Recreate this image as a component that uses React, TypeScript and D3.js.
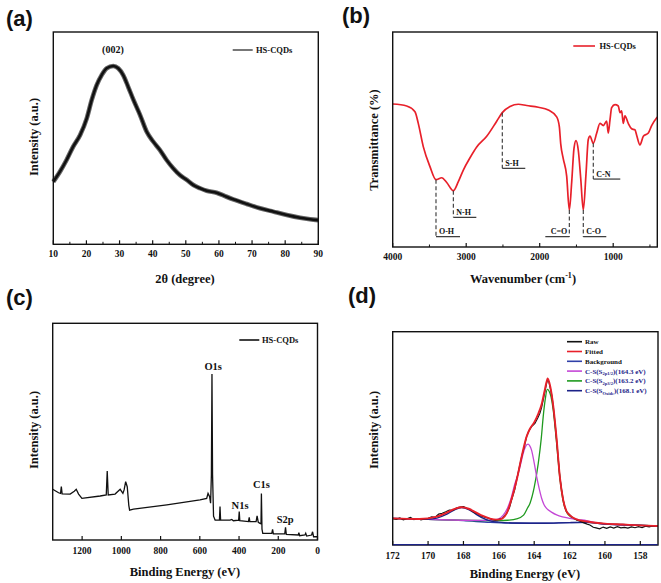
import React from "react";
import * as d3 from "d3";

// ---------- (a) XRD ----------
const xrdAngle = [10, 12, 14, 16, 18.1, 20.1, 21.6, 23.1, 24.6, 26.1, 28.1, 29.6, 31.1, 32.6, 34.2, 36.2, 38.2, 40.2, 42.2, 44.2, 46.2, 48.2, 50.3, 52.3, 54.3, 56.3, 59.3, 62.3, 64.3, 68.4, 72.4, 76.4, 80.5, 84.5, 87.5, 90];
const xrdIntensity = [29.5, 34.2, 39.7, 46, 51.5, 59.3, 68, 75, 79.7, 82.9, 84, 82.9, 79.7, 74.2, 68, 60.9, 53, 48.3, 44.4, 39.7, 35.8, 32.6, 30.3, 27.9, 26.4, 25.2, 24.3, 22.4, 21.2, 19, 17, 15.4, 13.8, 12.5, 11.8, 11.4];
const xrdTicks = [10, 20, 30, 40, 50, 60, 70, 80, 90];
const xrdMinor = [15, 25, 35, 45, 55, 65, 75, 85];

// ---------- (b) FTIR ----------
const ftirWavenumber = [4000, 3810, 3697, 3652, 3584, 3493, 3411, 3333, 3265, 3175, 3107, 3039, 2948, 2857, 2721, 2585, 2509, 2404, 2291, 2177, 2019, 1883, 1769, 1733, 1714, 1679, 1633, 1597, 1565, 1533, 1506, 1475, 1442, 1407, 1370, 1339, 1316, 1271, 1225, 1180, 1135, 1089, 1067, 1044, 1021, 976, 931, 907, 885, 863, 840, 795, 749, 704, 681, 636, 590, 522, 477, 400];
const ftirTransmittance = [66.5, 65.6, 62.9, 57.5, 46.7, 37.4, 31.3, 32.2, 30.0, 26.2, 30.4, 35.8, 41.5, 46.5, 51.5, 58.5, 62.5, 65.3, 66.4, 65.8, 65.0, 63.7, 60.5, 56, 48, 41, 33, 17.2, 30, 46, 49.5, 45, 32, 17.2, 34, 50, 51.6, 48.2, 52.9, 57.5, 56.5, 58.5, 53, 59, 64.8, 66.2, 65.6, 62.5, 63.3, 57.5, 61, 57.5, 55, 54.5, 52, 47.5, 51.5, 53, 56.5, 60.5];
const ftirBands = ["O-H", "N-H", "S-H", "C=O", "C-O", "C-N"];
const ftirBandWavenumber = [3411, 3175, 2509, 1597, 1407, 1271];
const ftirBandTransmittance = [31.3, 26.2, 62.5, 17.2, 17.2, 48.2];
const ftirBandLabelLevel = [4.8, 13.8, 36.6, 4.8, 4.8, 31.6];
const ftirTicks = [4000, 3000, 2000, 1000];
const ftirMinor = [3500, 2500, 1500, 500];

// ---------- (c) XPS survey ----------
const surveyEnergy = [1350, 1335, 1320, 1310, 1306, 1302, 1261, 1240, 1230, 1218, 1201, 1108, 1077, 1072, 1067, 1032, 1006, 992, 986, 978, 970, 962, 958, 938, 768, 599, 565, 558, 550, 545, 541, 538, 535, 530, 522, 500, 497, 494, 446, 437, 429, 402, 399, 396, 352, 348, 345, 313, 308, 302, 293, 288, 286, 283, 279, 233, 229, 225, 167, 163, 159, 98, 95, 91, 64, 60, 55, 30, 25, 20, 0];
const surveyIntensity = [23.4, 22.6, 21.8, 21.5, 24.6, 21.3, 21.2, 22.5, 23.4, 21.2, 19.2, 20.3, 20.8, 31.8, 20.8, 21.2, 23.4, 21.5, 23.1, 26.9, 24.6, 16, 13.8, 14.2, 16.2, 18.5, 19.2, 21.5, 20, 17, 30, 76.6, 30, 11, 9.2, 9.2, 15.4, 9.2, 9.2, 9.5, 8.9, 9.2, 13.1, 8.9, 8.5, 10.5, 8.5, 8.5, 11.1, 8.2, 7.7, 7.5, 21.5, 5, 3.1, 3.1, 4.9, 2.8, 2.8, 5.8, 2.6, 2.3, 3.4, 2.0, 2.3, 3.1, 1.8, 2.3, 3.8, 1.5, 1.5];
const surveyPeaks = ["O1s", "N1s", "C1s", "S2p"];
const surveyTicks = [1200, 1000, 800, 600, 400, 200, 0];

// ---------- (d) S2p high resolution ----------
const rawEnergy = [172.0, 171.8, 171.6, 171.4, 171.2, 171.0, 170.8, 170.6, 170.4, 170.2, 170.0, 169.8, 169.6, 169.4, 169.2, 169.0, 168.8, 168.6, 168.4, 168.2, 168.0, 167.8, 167.6, 167.4, 167.2, 167.0, 166.8, 166.6, 166.4, 166.2, 166.0, 165.8, 165.56, 165.4, 165.28, 165.1, 164.99, 164.85, 164.71, 164.55, 164.43, 164.3, 164.15, 163.96, 163.8, 163.68, 163.58, 163.49, 163.38, 163.3, 163.24, 163.17, 163.11, 163.0, 162.92, 162.82, 162.73, 162.64, 162.55, 162.45, 162.36, 162.27, 162.17, 162.0, 161.89, 161.6, 161.4, 161.23, 161.0, 160.85, 160.66, 160.5, 160.3, 160.1, 159.9, 159.7, 159.5, 159.3, 159.1, 158.9, 158.7, 158.5, 158.3, 158.1, 157.9, 157.7, 157.5, 157.3, 157.0];
const rawIntensity = [12.5, 12.0, 12.7, 11.8, 12.3, 12.9, 11.9, 12.4, 11.8, 12.2, 12.5, 13.2, 13.0, 14.5, 14.9, 15.6, 16.4, 16.2, 17.3, 17.8, 18.0, 17.2, 16.5, 15.3, 14.6, 13.6, 13.0, 12.6, 12.0, 11.6, 12.0, 12.5, 14.8, 17.5, 21.1, 26, 30.5, 36, 41.4, 46.5, 50.8, 53.5, 55.5, 57, 59.5, 61.7, 64.5, 68, 72.5, 75.8, 77.7, 76.5, 74.2, 70, 64.8, 57, 49.2, 40.5, 32, 26, 21.1, 18, 15.6, 14.2, 13.3, 11.7, 11.2, 10.5, 9.8, 9.4, 8.3, 8.0, 7.6, 8.4, 7.8, 8.5, 7.9, 8.6, 8.0, 8.3, 7.9, 8.5, 8.1, 8.6, 8.2, 8.8, 8.5, 8.9, 8.7];
const fitEnergy = [172, 170.5, 169.5, 169.0, 168.5, 168.1, 167.7, 167.3, 166.9, 166.5, 166.1, 165.8, 165.56, 165.28, 164.99, 164.71, 164.43, 164.24, 164.0, 163.77, 163.58, 163.42, 163.3, 163.24, 163.11, 162.92, 162.73, 162.55, 162.36, 162.17, 161.89, 161.6, 161.0, 160.5, 160, 159, 158, 157];
const fitIntensity = [12.5, 12.2, 13.3, 15.0, 16.9, 17.7, 17.0, 15.3, 13.6, 12.4, 11.9, 12.4, 14.8, 21.5, 30.5, 41.4, 50.8, 54.5, 57.5, 61.5, 66, 72, 76.5, 78.1, 75, 65, 49.5, 32, 21.1, 15.8, 13.3, 12.0, 11.0, 10.4, 10.0, 9.6, 9.2, 8.9];
const bgEnergy = [172, 170, 168, 166.5, 165, 163.5, 162, 161, 160, 158, 157];
const bgIntensity = [12.5, 12.0, 11.4, 10.6, 10.2, 10.2, 10.5, 10.6, 9.8, 9.2, 8.9];
const s2p32Energy = [172, 170, 168, 166, 165.5, 165, 164.6, 164.4, 164.24, 164.0, 163.77, 163.6, 163.49, 163.38, 163.26, 163.1, 162.92, 162.73, 162.55, 162.36, 162.17, 161.9, 161.6, 161, 160, 158, 157];
const s2p32Intensity = [12.3, 12.0, 11.6, 11.4, 11.6, 12.2, 14, 17, 19.5, 27, 38.3, 50, 60.2, 68, 73, 71, 63, 47.5, 31.5, 20.5, 15.5, 13, 11.8, 10.8, 10.0, 9.3, 8.9];
const s2p12Energy = [172, 170, 168, 166.5, 166, 165.75, 165.5, 165.28, 165.1, 164.9, 164.75, 164.62, 164.5, 164.35, 164.25, 164.15, 164.0, 163.86, 163.72, 163.58, 163.45, 163.3, 163.0, 162.73, 162.4, 161.98, 161.5, 161.04, 160.5, 160, 159, 158, 157];
const s2p12Intensity = [12.4, 12.0, 11.6, 11.5, 12.3, 14, 17.5, 22.7, 28.5, 33.6, 38.5, 43, 46, 47.3, 46.5, 44.5, 38.5, 32, 26.5, 21.9, 19, 17.2, 15.3, 14.1, 13.2, 12.5, 11.9, 11.4, 10.4, 10.0, 9.6, 9.2, 8.9];
const oxideEnergy = [172, 170, 169.5, 169, 168.5, 168.1, 167.7, 167.3, 166.9, 166.5, 166, 165, 163.5, 162, 161, 160, 158, 157];
const oxideIntensity = [12.5, 12.1, 12.6, 14.2, 16.5, 17.5, 16.6, 14.5, 12.6, 11.3, 10.7, 10.3, 10.2, 10.5, 10.6, 9.8, 9.2, 8.9];
const s2pTicks = [172, 170, 168, 166, 164, 162, 160, 158];

const SERIF = "'Liberation Serif','Times New Roman',serif";
const SANS = "'Liberation Sans',Arial,sans-serif";

type Sc = d3.ScaleLinear<number, number>;

function path(xs: number[], ys: number[], sx: Sc, sy: Sc, curve: d3.CurveFactory = d3.curveLinear) {
  return (
    d3
      .line<number>()
      .x((d) => sx(d))
      .y((_, i) => sy(ys[i]))
      .curve(curve)(xs) || ""
  );
}

function Frame({ sx, sy }: { sx: Sc; sy: Sc }) {
  const [x0, x1] = sx.range();
  const [y1, y0] = sy.range();
  return <rect x={Math.min(x0, x1)} y={y0} width={Math.abs(x1 - x0)} height={y1 - y0} fill="none" stroke="#111" strokeWidth={1.4} />;
}

function XAxis({ sx, sy, ticks, minor = [], labelY, fmt = (d: number) => String(d) }: { sx: Sc; sy: Sc; ticks: number[]; minor?: number[]; labelY: number; fmt?: (d: number) => string }) {
  const yb = sy.range()[0];
  return (
    <g>
      {ticks.map((t) => (
        <line key={"M" + t} x1={sx(t)} x2={sx(t)} y1={yb} y2={yb - 4} stroke="#111" strokeWidth={1.2} />
      ))}
      {minor.map((t) => (
        <line key={"m" + t} x1={sx(t)} x2={sx(t)} y1={yb} y2={yb - 2.5} stroke="#111" strokeWidth={1} />
      ))}
      {ticks.map((t) => (
        <text key={"t" + t} x={sx(t)} y={labelY} textAnchor="middle" fontFamily={SERIF} fontWeight="bold" fontSize={9.5} fill="#111">
          {fmt(t)}
        </text>
      ))}
    </g>
  );
}

function YTitle({ x, y, text }: { x: number; y: number; text: string }) {
  return (
    <text transform={`translate(${x},${y}) rotate(-90)`} textAnchor="middle" fontFamily={SERIF} fontWeight="bold" fontSize={12.5} fill="#111">
      {text}
    </text>
  );
}

function XTitle({ x, y, children }: { x: number; y: number; children: React.ReactNode }) {
  return (
    <text x={x} y={y} textAnchor="middle" fontFamily={SERIF} fontWeight="bold" fontSize={12.5} fill="#111">
      {children}
    </text>
  );
}

function PanelLabel({ x, y, text }: { x: number; y: number; text: string }) {
  return (
    <text x={x} y={y} fontFamily={SANS} fontWeight="bold" fontSize={22} fill="#111">
      {text}
    </text>
  );
}

export default function App() {
  const xA = d3.scaleLinear().domain([10, 90]).range([53.3, 318.3]);
  const yA = d3.scaleLinear().domain([0, 100]).range([244.3, 32]);
  const xB = d3.scaleLinear().domain([4000, 400]).range([392.7, 657.3]);
  const yB = d3.scaleLinear().domain([0, 100]).range([247, 32]);
  const xC = d3.scaleLinear().domain([1350, 0]).range([52.7, 317.5]);
  const yC = d3.scaleLinear().domain([0, 100]).range([540, 323.3]);
  const xD = d3.scaleLinear().domain([172, 157]).range([392.7, 658]);
  const yD = d3.scaleLinear().domain([0, 100]).range([545, 331.7]);

  const red = "#e8202a";
  const navy = "#1c2388";
  const bgBlue = "#3040a8";
  const green = "#1f9a1f";
  const violet = "#c447d6";

  const xrdPath = path(xrdAngle, xrdIntensity, xA, yA, d3.curveMonotoneX);
  const ftirPath = path(ftirWavenumber, ftirTransmittance, xB, yB, d3.curveMonotoneX);
  const surveyPath = path(surveyEnergy, surveyIntensity, xC, yC);

  // band annotation layout (direction of bracket; +1 right, -1 left)
  const bandDir = [1, 1, 1, -1, 1, 1];
  const bandLen = [24, 23, 23, 24, 23, 27];

  // survey peak label positions (energy, intensity)
  const surveyLabelE = [532, 395, 286, 165];
  const surveyLabelI = [78.5, 14.5, 24, 7.8];

  const legendD = [
    { name: "Raw", color: "#111", sub: "" },
    { name: "Fitted", color: red, sub: "" },
    { name: "Background", color: bgBlue, sub: "" },
    { name: "C-S(S", color: violet, sub: "2p1/2", tail: ")(164.3 eV)" },
    { name: "C-S(S", color: green, sub: "2p3/2", tail: ")(163.2 eV)" },
    { name: "C-S(S", color: navy, sub: "Oxide", tail: ")(168.1 eV)" },
  ];

  return (
    <svg width={661} height={583} viewBox="0 0 661 583" style={{ position: "absolute", left: 0, top: 0, background: "#fff" }}>
      <rect x={0} y={0} width={661} height={583} fill="#fff" />

      {/* ---------------- (a) ---------------- */}
      <PanelLabel x={6} y={26} text="(a)" />
      <path d={xrdPath} fill="none" stroke="#666" strokeWidth={4.6} strokeLinejoin="round" />
      <path d={xrdPath} fill="none" stroke="#111" strokeWidth={2.6} strokeLinejoin="round" />
      <Frame sx={xA} sy={yA} />
      <XAxis sx={xA} sy={yA} ticks={xrdTicks} minor={xrdMinor} labelY={256.5} />
      <XTitle x={185} y={283}>2θ (degree)</XTitle>
      <YTitle x={37.5} y={137} text="Intensity (a.u.)" />
      <text x={xA(28)} y={53} textAnchor="middle" fontFamily={SERIF} fontWeight="bold" fontSize={10} fill="#111">(002)</text>
      <line x1={232.7} x2={252.7} y1={50} y2={50} stroke="#555" strokeWidth={1.6} />
      <text x={256} y={53} fontFamily={SERIF} fontWeight="bold" fontSize={8.5} fill="#111">HS-CQDs</text>

      {/* ---------------- (b) ---------------- */}
      <PanelLabel x={342} y={23} text="(b)" />
      <path d={ftirPath} fill="none" stroke={red} strokeWidth={1.7} />
      {ftirBands.map((b, i) => {
        const x = xB(ftirBandWavenumber[i]);
        const yTop = yB(ftirBandTransmittance[i]);
        const yBot = yB(ftirBandLabelLevel[i]);
        const x2 = x + bandDir[i] * bandLen[i];
        return (
          <g key={b}>
            <line x1={x} x2={x} y1={yTop} y2={yBot} stroke="#333" strokeWidth={1.1} strokeDasharray="4,2.5" />
            <line x1={x} x2={x2} y1={yBot} y2={yBot} stroke="#222" strokeWidth={1.1} />
            <text x={bandDir[i] > 0 ? x + 3 : x - 2} y={yBot - 2.5} textAnchor={bandDir[i] > 0 ? "start" : "end"} fontFamily={SERIF} fontWeight="bold" fontSize={8} fill="#111">
              {b}
            </text>
          </g>
        );
      })}
      <Frame sx={xB} sy={yB} />
      <XAxis sx={xB} sy={yB} ticks={ftirTicks} minor={ftirMinor} labelY={259.5} />
      <XTitle x={523} y={283}>
        Wavenumber (cm
        <tspan fontSize={8} dy={-5}>-1</tspan>
        <tspan dy={5}>)</tspan>
      </XTitle>
      <YTitle x={378} y={140} text="Transmittance (%)" />
      <line x1={573.3} x2={595} y1={46} y2={46} stroke={red} strokeWidth={1.6} />
      <text x={599.5} y={49} fontFamily={SERIF} fontWeight="bold" fontSize={8.5} fill="#111">HS-CQDs</text>

      {/* ---------------- (c) ---------------- */}
      <PanelLabel x={6} y={305} text="(c)" />
      <path d={surveyPath} fill="none" stroke="#111" strokeWidth={1.3} strokeLinejoin="miter" />
      <Frame sx={xC} sy={yC} />
      <XAxis sx={xC} sy={yC} ticks={surveyTicks} labelY={554} />
      <XTitle x={185} y={576}>Binding Energy (eV)</XTitle>
      <YTitle x={37.5} y={430} text="Intensity (a.u.)" />
      {surveyPeaks.map((p, i) => (
        <text key={p} x={xC(surveyLabelE[i])} y={yC(surveyLabelI[i])} textAnchor="middle" fontFamily={SERIF} fontWeight="bold" fontSize={10.5} fill="#111">
          {p}
        </text>
      ))}
      <line x1={239.3} x2={259.3} y1={340} y2={340} stroke="#111" strokeWidth={1.6} />
      <text x={262} y={343} fontFamily={SERIF} fontWeight="bold" fontSize={8.5} fill="#111">HS-CQDs</text>

      {/* ---------------- (d) ---------------- */}
      <PanelLabel x={348} y={303} text="(d)" />
      <path d={path(bgEnergy, bgIntensity, xD, yD, d3.curveMonotoneX)} fill="none" stroke={bgBlue} strokeWidth={1.3} />
      <path d={path(s2p32Energy, s2p32Intensity, xD, yD, d3.curveMonotoneX)} fill="none" stroke={green} strokeWidth={1.3} />
      <path d={path(s2p12Energy, s2p12Intensity, xD, yD, d3.curveMonotoneX)} fill="none" stroke={violet} strokeWidth={1.3} />
      <path d={path(oxideEnergy, oxideIntensity, xD, yD, d3.curveMonotoneX)} fill="none" stroke={navy} strokeWidth={1.4} />
      <path d={path(rawEnergy, rawIntensity, xD, yD)} fill="none" stroke="#111" strokeWidth={1.2} />
      <path d={path(fitEnergy, fitIntensity, xD, yD, d3.curveMonotoneX)} fill="none" stroke={red} strokeWidth={1.9} />
      <Frame sx={xD} sy={yD} />
      <line x1={393} x2={657.5} y1={544.6} y2={544.6} stroke={navy} strokeWidth={1.3} />
      <XAxis sx={xD} sy={yD} ticks={s2pTicks} labelY={559} />
      <XTitle x={525} y={578}>Binding Energy (eV)</XTitle>
      <YTitle x={378} y={430} text="Intensity (a.u.)" />
      {legendD.map((l, i) => {
        const y = 341.7 + i * 9.8;
        return (
          <g key={i}>
            <line x1={567} x2={582} y1={y} y2={y} stroke={l.color} strokeWidth={1.6} />
            <text x={585} y={y + 2.5} fontFamily={SERIF} fontWeight="bold" fontSize={7} fill={i < 3 ? "#111" : "#1c2388"}>
              {l.name}
              {l.sub ? (
                <>
                  <tspan fontSize={4.5} dy={1.5}>{l.sub}</tspan>
                  <tspan dy={-1.5}>{l.tail}</tspan>
                </>
              ) : null}
            </text>
          </g>
        );
      })}
    </svg>
  );
}
